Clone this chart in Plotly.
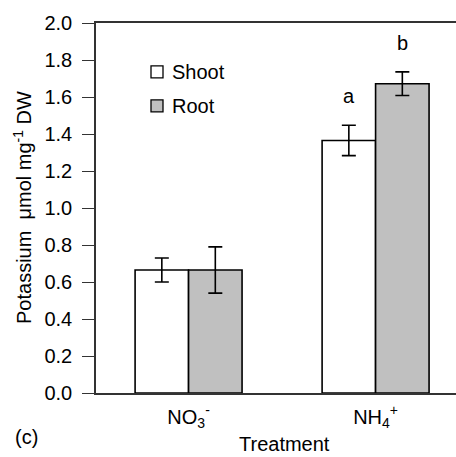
import plotly.graph_objects as go

categories = ["NO<sub>3</sub><sup>-</sup>", "NH<sub>4</sub><sup>+</sup>"]
shoot = [0.665, 1.365]
shoot_err = [0.065, 0.082]
root = [0.665, 1.672]
root_err = [0.125, 0.064]
letters_shoot = ["", "a"]
letters_root = ["", "b"]
yticks = [0.0, 0.2, 0.4, 0.6, 0.8, 1.0, 1.2, 1.4, 1.6, 1.8, 2.0]

FONT = "Liberation Sans, Arial, sans-serif"
FS = 20
xidx = list(range(len(categories)))
bargap = 0.428
half = (1 - bargap) / 4  # center offset of each bar within its group

fig = go.Figure()
fig.add_trace(go.Bar(
    x=xidx, y=shoot, name="Shoot",
    marker=dict(color="white", line=dict(color="black", width=1.6)),
    error_y=dict(type="data", array=shoot_err, color="black", thickness=1.6, width=7),
    showlegend=False,
))
fig.add_trace(go.Bar(
    x=xidx, y=root, name="Root",
    marker=dict(color="#c0c0c0", line=dict(color="black", width=1.6)),
    error_y=dict(type="data", array=root_err, color="black", thickness=1.6, width=7),
    showlegend=False,
))

annotations = []
for i in xidx:
    if letters_shoot[i]:
        annotations.append(dict(x=i - half, y=shoot[i] + shoot_err[i], text=letters_shoot[i],
                                showarrow=False, yshift=29, font=dict(size=FS, family=FONT, color="black")))
    if letters_root[i]:
        annotations.append(dict(x=i + half, y=root[i] + root_err[i], text=letters_root[i],
                                showarrow=False, yshift=29, font=dict(size=FS, family=FONT, color="black")))

# axis titles and panel label
annotations.append(dict(xref="paper", yref="paper", x=(284 - 96) / 360, y=-(445 - 393.5) / 370.5,
                        text="Treatment", showarrow=False, font=dict(size=FS, family=FONT, color="black"),
                        xanchor="center", yanchor="middle"))
annotations.append(dict(xref="paper", yref="paper", x=-(96 - 26) / 360, y=-(438 - 393.5) / 370.5,
                        text="(c)", showarrow=False, font=dict(size=FS, family=FONT, color="black"),
                        xanchor="center", yanchor="middle"))
annotations.append(dict(xref="paper", yref="paper", x=-(96 - 22) / 360, y=0.5,
                        text="Potassium  \u03bcmol mg<sup>-1</sup> DW", textangle=-90, showarrow=False,
                        font=dict(size=FS, family=FONT, color="black"),
                        xanchor="center", yanchor="middle"))

# legend (custom)
shapes = []
leg = [("Shoot", "white", 72), ("Root", "#c0c0c0", 106)]
for name, col, yc in leg:
    shapes.append(dict(type="rect", xref="paper", yref="paper",
                       x0=(151 - 96) / 360, x1=(163 - 96) / 360,
                       y0=(393.5 - (yc + 6)) / 370.5, y1=(393.5 - (yc - 6)) / 370.5,
                       fillcolor=col, line=dict(color="black", width=1.3)))
    annotations.append(dict(xref="paper", yref="paper", x=(170 - 96) / 360, y=(393.5 - yc) / 370.5,
                            text=name, showarrow=False, xanchor="left", yanchor="middle",
                            font=dict(size=FS, family=FONT, color="black")))

fig.update_layout(
    width=456, height=457,
    margin=dict(l=96, r=0, t=23, b=63.5),
    paper_bgcolor="white", plot_bgcolor="white",
    barmode="group", bargap=bargap, bargroupgap=0,
    font=dict(family=FONT, size=FS, color="black"),
    annotations=annotations, shapes=shapes,
    showlegend=False,
)
fig.update_xaxes(
    range=[-0.495, 1.43], tickmode="array", tickvals=xidx, ticktext=categories,
    showline=True, linecolor="#333333", linewidth=1.5, mirror=True,
    ticks="", showgrid=False, zeroline=False, ticklabelstandoff=5,
    tickfont=dict(size=FS, family=FONT, color="black"),
)
fig.update_yaxes(
    range=[0, 2.0], tickmode="array", tickvals=yticks, ticktext=[f"{v:.1f}" for v in yticks],
    showline=True, linecolor="#333333", linewidth=1.5, mirror=False,
    ticks="outside", ticklen=12, tickwidth=1.3, tickcolor="#333333",
    ticklabelstandoff=6,
    showgrid=False, zeroline=False,
    tickfont=dict(size=FS, family=FONT, color="black"),
)

fig.write_html("out.html", config={"displayModeBar": False},
               post_script="document.body.style.margin='0';")
